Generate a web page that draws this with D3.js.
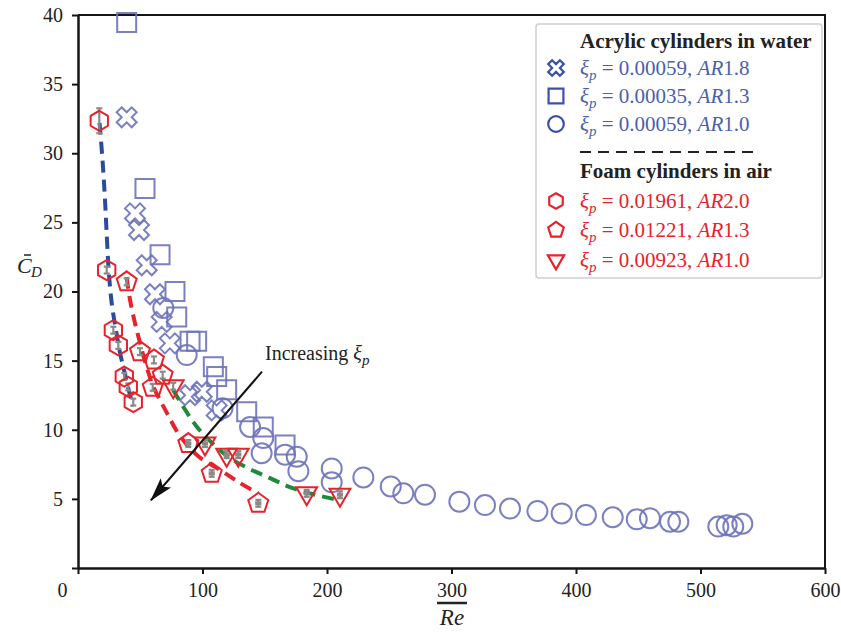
<!DOCTYPE html>
<html>
<head>
<meta charset="utf-8">
<script src="https://cdn.jsdelivr.net/npm/d3@7"></script>
<style>
  body { margin: 0; background: #fff; }
  text { font-family: "Liberation Serif", "Times New Roman", serif; }
</style>
</head>
<body>
<svg id="chart" width="841" height="632"></svg>
<script>
// ---- data: [Re, mean drag coefficient] ----
// Acrylic cylinders in water
const acrylicAR18 = [
  [39.1, 32.6], [45.8, 25.65], [49.0, 24.45], [55.2, 21.9], [61.8, 19.8],
  [67.2, 17.8], [73.8, 16.25], [90.0, 12.5], [99.4, 12.75], [111.4, 11.4]
];
const acrylicAR13 = [
  [39.1, 39.45], [53.8, 27.45], [65.9, 22.65], [77.9, 20.0], [79.3, 18.15],
  [90.0, 16.4], [95.3, 16.4], [108.7, 14.55], [111.4, 13.85], [119.4, 12.9],
  [135.5, 11.3], [148.8, 10.2], [166.3, 8.9]
];
const acrylicAR10 = [
  [68.5, 18.8], [87.3, 15.4], [116.1, 11.55], [138.2, 10.2], [148.8, 9.4],
  [147.5, 8.3], [166.3, 8.2], [175.7, 8.05], [177.0, 7.0], [203.8, 7.2],
  [203.8, 6.2], [229.2, 6.55], [251.2, 5.9], [261.3, 5.4], [278.7, 5.3],
  [306.3, 4.8], [326.9, 4.55], [347.0, 4.3], [369.0, 4.12], [388.5, 3.95],
  [408.0, 3.83], [429.5, 3.67], [448.8, 3.52], [459.4, 3.6], [475.5, 3.35],
  [482.2, 3.35], [514.3, 3.0], [521.0, 3.1], [526.3, 3.0], [533.6, 3.2]
];
// Foam cylinders in air: [Re, CD, CD error, Re error]
const foamAR20 = [
  [17.1, 32.35, 0.9, 0], [23.05, 21.55, 0.25, 0], [28.4, 17.2, 0.25, 0],
  [32.4, 16.1, 0.25, 0], [37.2, 13.85, 0.25, 0], [40.4, 13.1, 0.25, 0],
  [44.4, 12.0, 0.25, 0]
];
const foamAR13 = [
  [39.1, 20.7, 0.25, 0], [49.8, 15.65, 0.25, 0], [61.0, 15.05, 0.25, 0],
  [68.0, 13.95, 0.25, 0], [60.0, 13.07, 0.25, 0], [88.6, 9.0, 0.25, 2.5],
  [107.4, 6.85, 0.25, 2.5], [144.8, 4.68, 0.25, 2.5]
];
const foamAR10 = [
  [76.5, 13.15, 0.25, 0], [102.0, 9.0, 0.25, 2.5], [119.4, 8.2, 0.25, 2.5],
  [128.7, 8.2, 0.25, 2.5], [183.7, 5.4, 0.25, 2.5], [210.4, 5.3, 0.25, 2.5]
];
// fitted trend curves (points along each curve)
const fitAR20 = [
  [17.3, 32.2], [19.7, 29.5], [21.7, 26.6], [23.3, 23.7], [24.9, 21.2],
  [27.3, 19.0], [30.5, 17.2], [33.7, 15.6], [37.8, 14.0], [41.8, 12.5], [44.2, 11.7]
];
const fitAR13 = [
  [39.0, 21.05], [41.8, 19.4], [45.8, 17.7], [49.8, 16.3], [54.6, 14.7],
  [60.6, 13.1], [65.9, 12.15], [71.5, 11.2], [81.9, 9.55], [96.4, 8.1],
  [114.1, 7.1], [130.1, 6.15], [144.6, 5.4]
];
const fitAR10 = [
  [76.3, 12.9], [84.3, 11.7], [95.6, 10.2], [107.6, 9.05], [122.1, 7.95],
  [138.2, 7.15], [154.2, 6.5], [170.3, 5.85], [190.4, 5.3], [210.4, 4.9]
];
// annotation arrow: [Re, CD] start and end
const arrowFrom = [147.8, 14.2];
const arrowTo = [58.6, 4.9];

const xTickValues = [0, 100, 200, 300, 400, 500, 600];
const yTickValues = [0, 5, 10, 15, 20, 25, 30, 35, 40];

// ---- layout ----
const svg = d3.select("#chart");
const x = d3.scaleLinear().domain([0, 600]).range([78, 825]);
const y = d3.scaleLinear().domain([0, 40]).range([568, 15]);

const BLUE_MK = "#6c72ba";
const BLUE_DK = "#3a52a3";
const BLUE_TX = "#4a60ad";
const RED = "#e8222b";
const GREEN = "#1e8a3b";
const BLUE_FIT = "#2c4b9e";

// polygon path with n vertices, first vertex at angle a0 (degrees)
function polygon(n, r, a0) {
  const pts = d3.range(n).map(k => {
    const a = (a0 + 360 * k / n) * Math.PI / 180;
    return [r * Math.cos(a), r * Math.sin(a)];
  });
  return "M" + pts.map(p => p.join(",")).join("L") + "Z";
}
function markerPath(kind, s) {
  switch (kind) {
    case "cross":  return d3.symbol(d3.symbolCross, 250 * s * s)();
    case "square": return d3.symbol(d3.symbolSquare, 361 * s * s)();
    case "circle": return d3.symbol(d3.symbolCircle, 314 * s * s)();
    case "hexagon": return polygon(6, 10 * s, -90);
    case "pentagon": return polygon(5, 10.5 * s, -90);
    case "triangle": return polygon(3, 12 * s, 90);
  }
}
function drawMarkers(data, kind, color, width, opacity) {
  svg.append("g").selectAll("path").data(data).join("path")
    .attr("d", markerPath(kind, 1))
    .attr("transform", d => `translate(${x(d[0])},${y(d[1])})` + (kind === "cross" ? " rotate(45)" : ""))
    .attr("fill", "none").attr("stroke", color)
    .attr("stroke-width", width).attr("stroke-opacity", opacity);
}
function drawErrors(data) {
  const g = svg.append("g").attr("stroke", "#8a8a8a").attr("stroke-width", 2.2);
  data.forEach(d => {
    const cx = x(d[0]), y1 = y(d[1] - d[2]), y2 = y(d[1] + d[2]);
    g.append("line").attr("x1", cx).attr("x2", cx).attr("y1", y1).attr("y2", y2);
    g.append("line").attr("x1", cx - 3).attr("x2", cx + 3).attr("y1", y1).attr("y2", y1);
    g.append("line").attr("x1", cx - 3).attr("x2", cx + 3).attr("y1", y2).attr("y2", y2);
    if (d[3] > 0) {
      g.append("line").attr("x1", x(d[0] - d[3])).attr("x2", x(d[0] + d[3]))
        .attr("y1", y(d[1])).attr("y2", y(d[1])).attr("stroke-width", 4);
    }
  });
}

// ---- axes ----
const ax = svg.append("g").attr("transform", "translate(0,568)")
  .call(d3.axisBottom(x).tickValues(xTickValues).tickSize(6).tickSizeOuter(0).tickPadding(9));
ax.selectAll("text").attr("font-size", 20).attr("fill", "#222")
  .attr("dx", d => d === 0 ? -16 : 0);
const ay = svg.append("g").attr("transform", "translate(78,0)")
  .call(d3.axisLeft(y).tickValues(yTickValues).tickSize(6).tickSizeOuter(0).tickPadding(9)
    .tickFormat(d => d === 0 ? "" : d));
ay.selectAll("text").attr("font-size", 20).attr("fill", "#222");
[ax, ay].forEach(g => {
  g.select(".domain").attr("stroke", "#151515").attr("stroke-width", 2.5);
  g.selectAll(".tick line").attr("stroke", "#151515").attr("stroke-width", 2);
});
// frame top and right
svg.append("path")
  .attr("d", `M${x(0)},${y(40)}H${x(600)}V${y(0)}`)
  .attr("fill", "none").attr("stroke", "#151515").attr("stroke-width", 2);

// axis titles
svg.append("text").attr("x", 452).attr("y", 625).attr("text-anchor", "middle")
  .attr("font-size", 23).attr("font-style", "italic").attr("fill", "#222").text("Re");
svg.append("line").attr("x1", 437).attr("x2", 467).attr("y1", 603).attr("y2", 603)
  .attr("stroke", "#222").attr("stroke-width", 2.5);
svg.append("text").attr("x", 17).attr("y", 273).attr("font-size", 22)
  .attr("font-style", "italic").attr("fill", "#222").text("C");
svg.append("line").attr("x1", 24).attr("x2", 31).attr("y1", 255).attr("y2", 255)
  .attr("stroke", "#222").attr("stroke-width", 1.5);
svg.append("text").attr("x", 31).attr("y", 277).attr("font-size", 15)
  .attr("font-style", "italic").attr("fill", "#222").text("D");

// ---- marks ----
drawMarkers(acrylicAR13, "square", BLUE_MK, 2, 0.9);
drawMarkers(acrylicAR10, "circle", BLUE_MK, 2, 0.9);
drawMarkers(acrylicAR18, "cross", BLUE_MK, 2, 0.9);

const line = d3.line().x(d => x(d[0])).y(d => y(d[1])).curve(d3.curveCatmullRom.alpha(0.5));
[[fitAR20, BLUE_FIT], [fitAR13, RED], [fitAR10, GREEN]].forEach(([data, c]) => {
  svg.append("path").datum(data).attr("d", line)
    .attr("fill", "none").attr("stroke", c).attr("stroke-width", 4)
    .attr("stroke-dasharray", "12,7");
});

drawErrors(foamAR20);
drawErrors(foamAR13);
drawErrors(foamAR10);
drawMarkers(foamAR20, "hexagon", RED, 2, 1);
drawMarkers(foamAR13, "pentagon", RED, 2, 1);
drawMarkers(foamAR10, "triangle", RED, 2, 1);

// arrow
svg.append("defs").append("marker").attr("id", "head")
  .attr("viewBox", "0 0 24 14").attr("refX", 23).attr("refY", 7)
  .attr("markerWidth", 24).attr("markerHeight", 14).attr("markerUnits", "userSpaceOnUse")
  .attr("orient", "auto")
  .append("path").attr("d", "M0,0L24,7L0,14L5,7Z").attr("fill", "#111");
svg.append("line")
  .attr("x1", x(arrowFrom[0])).attr("y1", y(arrowFrom[1]))
  .attr("x2", x(arrowTo[0])).attr("y2", y(arrowTo[1]))
  .attr("stroke", "#111").attr("stroke-width", 2).attr("marker-end", "url(#head)");
const ann = svg.append("text").attr("x", 265).attr("y", 360).attr("font-size", 20).attr("fill", "#222");
ann.append("tspan").text("Increasing ");
ann.append("tspan").attr("font-style", "italic").text("ξ");
ann.append("tspan").attr("font-style", "italic").attr("font-size", 15).attr("dy", 5).text("p");

// ---- legend ----
const lg = svg.append("g");
lg.append("rect").attr("x", 536).attr("y", 24).attr("width", 286).attr("height", 254)
  .attr("rx", 3).attr("fill", "#fff").attr("stroke", "#cfcfcf").attr("stroke-width", 1.5);
lg.append("text").attr("x", 580).attr("y", 48).attr("font-size", 21).attr("font-weight", "bold")
  .attr("fill", "#222").text("Acrylic cylinders in water");
lg.append("line").attr("x1", 580).attr("x2", 757).attr("y1", 152).attr("y2", 152)
  .attr("stroke", "#222").attr("stroke-width", 2).attr("stroke-dasharray", "11,7");
lg.append("text").attr("x", 580).attr("y", 178).attr("font-size", 21).attr("font-weight", "bold")
  .attr("fill", "#222").text("Foam cylinders in air");

const legendItems = [
  { kind: "cross", xi: "0.00059", ar: "1.8", color: BLUE_DK, tc: BLUE_TX, cy: 68 },
  { kind: "square", xi: "0.00035", ar: "1.3", color: BLUE_DK, tc: BLUE_TX, cy: 96 },
  { kind: "circle", xi: "0.00059", ar: "1.0", color: BLUE_DK, tc: BLUE_TX, cy: 124 },
  { kind: "hexagon", xi: "0.01961", ar: "2.0", color: RED, tc: RED, cy: 201 },
  { kind: "pentagon", xi: "0.01221", ar: "1.3", color: RED, tc: RED, cy: 230 },
  { kind: "triangle", xi: "0.00923", ar: "1.0", color: RED, tc: RED, cy: 260 }
];
legendItems.forEach(it => {
  lg.append("path").attr("d", markerPath(it.kind, 0.78))
    .attr("transform", `translate(556,${it.cy})` + (it.kind === "cross" ? " rotate(45)" : ""))
    .attr("fill", "none").attr("stroke", it.color).attr("stroke-width", 2.2);
  const t = lg.append("text").attr("x", 580).attr("y", it.cy + 7).attr("font-size", 21).attr("fill", it.tc);
  t.append("tspan").attr("font-style", "italic").text("ξ");
  t.append("tspan").attr("font-style", "italic").attr("font-size", 15).attr("dy", 5).text("p");
  t.append("tspan").attr("dy", -5).text(" = " + it.xi + ", ");
  t.append("tspan").attr("font-style", "italic").text("AR");
  t.append("tspan").text(it.ar);
});
</script>
</body>
</html>
